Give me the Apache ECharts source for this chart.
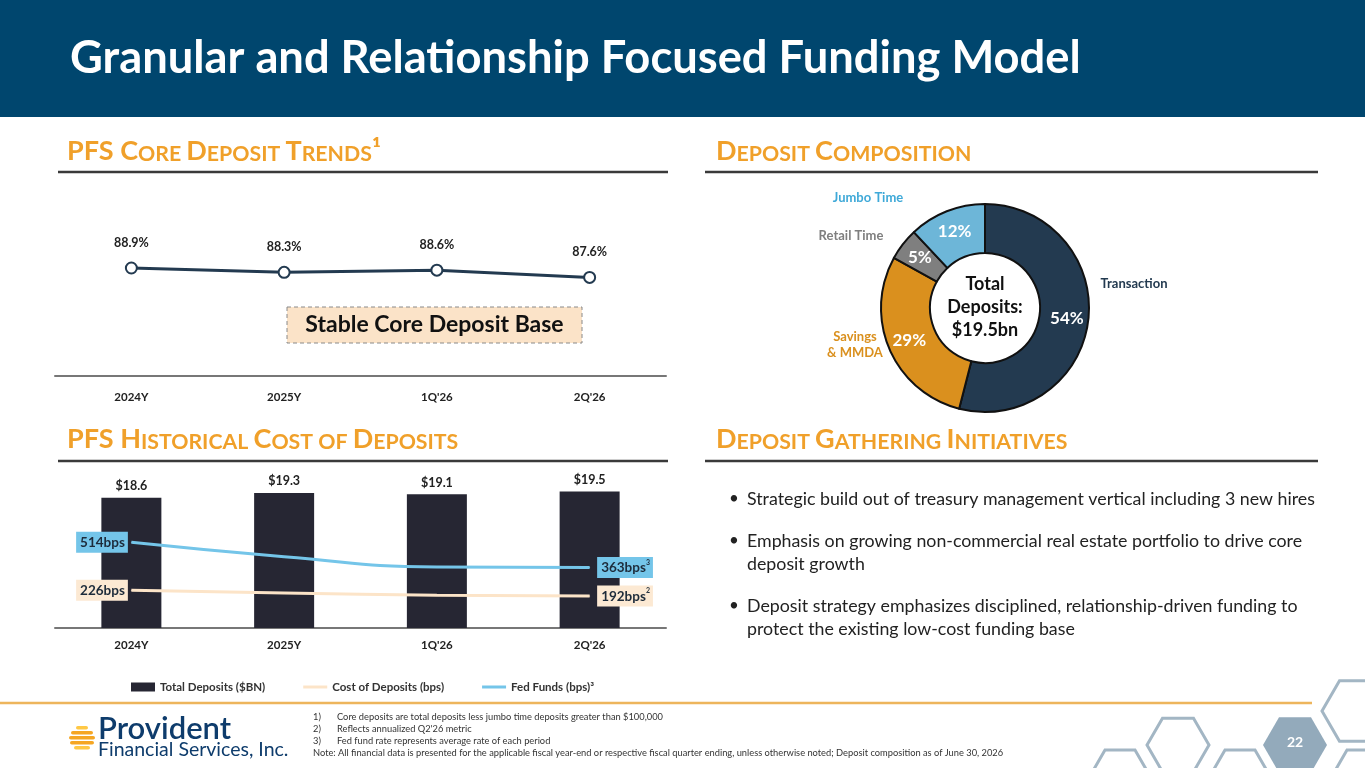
<!DOCTYPE html>
<html>
<head>
<meta charset="utf-8">
<script src="https://cdn.jsdelivr.net/npm/echarts@6/dist/echarts.min.js"></script>
<style>
html, body { margin: 0; padding: 0; background: #fff; }
#main { width: 1365px; height: 768px; }
</style>
</head>
<body>
<div id="main"></div>
<script>
// chart data
var periods = ['2024Y', '2025Y', "1Q'26", "2Q'26"];
var coreDepositPct = [88.9, 88.3, 88.6, 87.6];
var totalDeposits = [18.6, 19.3, 19.1, 19.5];
var costOfDeposits = [226, 210, 197, 192];
var fedFunds = [514, 428, 366, 363];
var costNotes = ['', '', '', '2'];
var fedNotes = ['', '', '', '3'];
var compositionNames = ['Transaction', 'Savings\n& MMDA', 'Retail Time', 'Jumbo Time'];
var compositionPct = [54, 29, 5, 12];
var bullets = [
  ['Strategic build out of treasury management vertical including 3 new hires'],
  ['Emphasis on growing non-commercial real estate portfolio to drive core', 'deposit growth'],
  ['Deposit strategy emphasizes disciplined, relationship-driven funding to', 'protect the existing low-cost funding base']
];
var footnotes = [
  ['1)', 'Core deposits are total deposits less jumbo time deposits greater than $100,000'],
  ['2)', "Reflects annualized Q2'26 metric"],
  ['3)', 'Fed fund rate represents average rate of each period'],
  ['', 'Note: All financial data is presented for the applicable fiscal year-end or respective fiscal quarter ending, unless otherwise noted; Deposit composition as of June 30, 2026']
];

var FONT = 'Lato, "Open Sans", sans-serif';
var DARK = '#233A50';
var ORANGE = '#F0A02A';
var sliceColors = ['#233A50', '#DA901E', '#7F7F7F', '#6DB6D8'];
var sliceLabelColors = ['#233A50', '#DA901E', '#7F7F7F', '#3FA9D8'];

var chart = echarts.init(document.getElementById('main'));

// small caps header text as rich text
function smallCaps(str) {
  var out = '', cur = null, buf = '';
  for (var i = 0; i < str.length; i++) {
    var ch = str[i];
    var t = ch === ' ' ? (cur || 'b') : (ch !== ch.toUpperCase() ? 's' : 'b');
    if (t !== cur && buf) { out += '{' + cur + '|' + buf + '}'; buf = ''; }
    cur = t;
    buf += t === 's' ? ch.toUpperCase() : ch;
  }
  if (buf) out += '{' + cur + '|' + buf + '}';
  return out;
}
function header(str, x, y) {
  return {
    type: 'text', x: x, y: y,
    style: {
      text: smallCaps(str), fill: ORANGE, verticalAlign: 'middle', textVerticalAlign: 'middle',
      rich: {
        b: { fontSize: 27, fontWeight: 'bold', fontFamily: FONT, color: ORANGE, lineHeight: 30, verticalAlign: 'bottom' },
        s: { fontSize: 21.3, fontWeight: 'bold', fontFamily: FONT, color: ORANGE, lineHeight: 30, verticalAlign: 'bottom' }
      }
    }
  };
}
function rule(x1, x2, y, color, w) {
  return { type: 'line', shape: { x1: x1, y1: y, x2: x2, y2: y }, style: { stroke: color, lineWidth: w } };
}
function hex(cx, cy, r, filled) {
  var pts = [];
  for (var k = 0; k < 6; k++) {
    var a = Math.PI / 3 * k;
    pts.push([cx + r * Math.cos(a), cy + r * Math.sin(a)]);
  }
  return {
    type: 'polygon', shape: { points: pts },
    style: filled ? { fill: '#93AABB' } : { fill: 'none', stroke: '#A3B6C4', lineWidth: 3 }
  };
}
function centred(x, y, text, font, fill, lh) {
  return { type: 'text', x: x, y: y, style: { text: text, fill: fill, font: font, lineHeight: lh, align: 'center', textAlign: 'center', verticalAlign: 'middle', textVerticalAlign: 'middle' } };
}
function plain(x, y, text, font, fill) {
  return { type: 'text', x: x, y: y, style: { text: text, fill: fill, font: font, verticalAlign: 'middle', textVerticalAlign: 'middle' } };
}

var graphics = [
  { type: 'rect', shape: { x: 0, y: 0, width: 1365, height: 117 }, style: { fill: '#00466E' } },
  plain(70, 58, 'Granular and Relationship Focused Funding Model', 'bold 45.3px ' + FONT, '#fff'),
  header('PFS Core Deposit Trends¹', 67, 150),
  header('Deposit Composition', 716, 150),
  header('PFS Historical Cost of Deposits', 67, 438),
  header('Deposit Gathering Initiatives', 716, 438),
  rule(58, 668, 172, '#3a3a3a', 2.5),
  rule(705, 1318, 172, '#3a3a3a', 2.5),
  rule(58, 668, 461, '#3a3a3a', 2.5),
  rule(705, 1318, 461, '#3a3a3a', 2.5),
  // callout box
  { type: 'rect', shape: { x: 287, y: 307, width: 295, height: 36 }, style: { fill: '#FBE3C8', stroke: '#8a8a8a', lineWidth: 1, lineDash: [4, 3] } },
  centred(434.5, 325, 'Stable Core Deposit Base', 'bold 23px ' + FONT, '#111'),
  // donut centre
  centred(985, 307, 'Total\nDeposits:\n$' + totalDeposits[totalDeposits.length - 1] + 'bn', 'bold 18px ' + FONT, '#111', 23),
  // footer line
  rule(0, 1312, 703, '#EDB55C', 2.5)
];

// donut outside names
var namePos = [[1134, 284], [855, 345], [851, 236], [868, 198]];
compositionNames.forEach(function (n, i) {
  graphics.push(centred(namePos[i][0], namePos[i][1], n, 'bold 13px ' + FONT, sliceLabelColors[i], 16));
});

// bullets
var by = 499;
bullets.forEach(function (lines) {
  graphics.push(plain(729, by, '•', '17px ' + FONT, '#222'));
  lines.forEach(function (l, j) {
    graphics.push(plain(747, by + j * 23, l, '17.8px ' + FONT, '#222'));
  });
  by += 23 * lines.length + 19;
});

// footnotes
footnotes.forEach(function (f, i) {
  var y = 717 + i * 12;
  if (f[0]) {
    graphics.push(plain(313, y, f[0], '9.3px ' + FONT, '#333'));
    graphics.push(plain(337, y, f[1], '9.3px ' + FONT, '#333'));
  } else {
    graphics.push(plain(313, y, f[1], '9.3px ' + FONT, '#333'));
  }
});

// logo
var stripes = [[-11, 12, '#FFC845'], [-6, 22, '#F5A623'], [-1, 26, '#F5A623'], [4, 24, '#F5A623'], [9, 16, '#FFC845']];
stripes.forEach(function (s) {
  graphics.push({ type: 'rect', shape: { x: 82 - s[1] / 2, y: 737 + s[0], width: s[1], height: 3.6, r: 1.8 }, style: { fill: s[2] } });
});
graphics.push(plain(98, 729, 'Provident', '600 31px ' + FONT, '#0E3C6C'));
graphics.push(plain(98, 750, 'Financial Services, Inc.', '19.5px ' + FONT, '#0E3C6C'));

// hexagons
[[1120, 776, 30], [1178, 745, 31], [1240, 776, 30], [1357, 711, 35], [1362, 776, 30]].forEach(function (h) {
  graphics.push(hex(h[0], h[1], h[2], false));
});
graphics.push(hex(1295, 745, 32, true));
graphics.push(centred(1295, 742, '22', 'bold 14px ' + FONT, '#fff'));

function bpsLabels(values, notes, bg) {
  var last = values.length - 1;
  return values.map(function (v, i) {
    var show = i === 0 || i === last;
    return {
      value: v,
      label: {
        show: show,
        position: i === 0 ? 'left' : 'right',
        distance: i === 0 ? 3 : 7,
        formatter: '{v|' + v + 'bps}' + (notes[i] ? '{s|' + notes[i] + '}' : ''),
        backgroundColor: bg,
        padding: [2, 3, 1, 4],
        rich: {
          v: { fontSize: 13.5, fontWeight: 'bold', color: '#1D2B3A', fontFamily: FONT, lineHeight: 18 },
          s: { fontSize: 7, fontWeight: 'bold', color: '#1D2B3A', fontFamily: FONT, verticalAlign: 'top', lineHeight: 18 }
        }
      }
    };
  });
}

var axisLabelStyle = { color: '#222', fontWeight: 'bold', fontSize: 11.5, fontFamily: FONT };
var linePath = 'path://M0,0L24,0L24,3L0,3Z';

var option = {
  animation: false,
  textStyle: { fontFamily: FONT },
  grid: [
    { left: 55, width: 611, top: 260, height: 116, outerBoundsMode: 'none' },
    { left: 55, width: 611, top: 453, height: 175, outerBoundsMode: 'none' }
  ],
  xAxis: [
    { type: 'category', gridIndex: 0, data: periods, axisTick: { show: false },
      axisLine: { lineStyle: { color: '#777', width: 2 } }, axisLabel: Object.assign({ margin: 15 }, axisLabelStyle) },
    { type: 'category', gridIndex: 1, data: periods, axisTick: { show: false },
      axisLine: { lineStyle: { color: '#777', width: 2 } }, axisLabel: Object.assign({ margin: 11 }, axisLabelStyle) }
  ],
  yAxis: [
    { type: 'value', gridIndex: 0, min: 74, max: 90, show: false },
    { type: 'value', gridIndex: 1, min: 0, max: 25, show: false },
    { type: 'value', gridIndex: 1, min: 0, max: 1050, show: false }
  ],
  legend: {
    left: 126, top: 676, itemWidth: 24, itemHeight: 9, itemGap: 38,
    textStyle: { fontSize: 11.5, fontWeight: 'bold', color: '#333', fontFamily: FONT },
    data: [
      { name: 'Total Deposits ($BN)', icon: 'rect' },
      { name: 'Cost of Deposits (bps)', icon: linePath },
      { name: 'Fed Funds (bps)³', icon: linePath }
    ]
  },
  graphic: { elements: graphics },
  series: [
    {
      name: 'Core Deposits', type: 'line', xAxisIndex: 0, yAxisIndex: 0,
      data: coreDepositPct,
      symbol: 'emptyCircle', symbolSize: 11,
      lineStyle: { color: DARK, width: 3 },
      itemStyle: { color: DARK, borderWidth: 2 },
      label: { show: true, position: 'top', distance: 12, formatter: '{c}%', color: '#222', fontSize: 12.5, fontWeight: 'bold', fontFamily: FONT }
    },
    {
      name: 'Total Deposits ($BN)', type: 'bar', xAxisIndex: 1, yAxisIndex: 1,
      data: totalDeposits, barWidth: 60,
      itemStyle: { color: '#262633' },
      label: { show: true, position: 'top', distance: 5, formatter: '${c}', color: '#222', fontSize: 12.5, fontWeight: 'bold', fontFamily: FONT }
    },
    {
      name: 'Cost of Deposits (bps)', type: 'line', xAxisIndex: 1, yAxisIndex: 2,
      data: bpsLabels(costOfDeposits, costNotes, '#FCE9D3'),
      smooth: true, symbol: 'circle', symbolSize: 1,
      lineStyle: { color: '#FCE4C8', width: 3 }, itemStyle: { color: '#FCE4C8' }, z: 3
    },
    {
      name: 'Fed Funds (bps)³', type: 'line', xAxisIndex: 1, yAxisIndex: 2,
      data: bpsLabels(fedFunds, fedNotes, '#74C5E9'),
      smooth: true, symbol: 'circle', symbolSize: 1,
      lineStyle: { color: '#74C5E9', width: 3 }, itemStyle: { color: '#74C5E9' }, z: 3
    },
    {
      name: 'Deposit Composition', type: 'pie', center: [985, 308], radius: [55, 104],
      startAngle: 90, clockwise: true, avoidLabelOverlap: false,
      itemStyle: { borderColor: '#111', borderWidth: 2 },
      label: { show: true, position: 'inside', formatter: '{c}%', color: '#fff', fontSize: 17, fontWeight: 'bold', fontFamily: FONT },
      labelLine: { show: false },
      emphasis: { disabled: true },
      data: compositionPct.map(function (v, i) {
        return { name: compositionNames[i], value: v, itemStyle: { color: sliceColors[i] } };
      })
    }
  ]
};
chart.setOption(option);
</script>
</body>
</html>
